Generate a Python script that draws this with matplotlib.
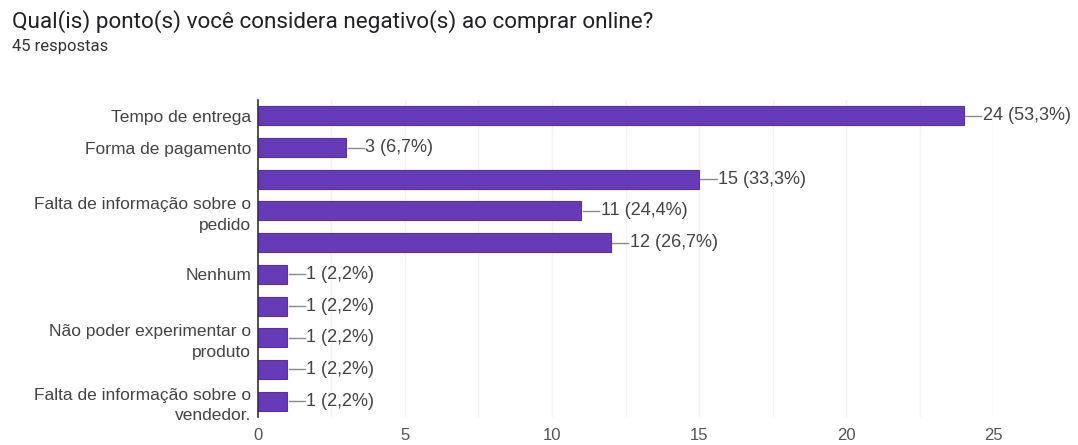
import matplotlib
matplotlib.use("Agg")
import matplotlib.pyplot as plt
import numpy as np

# dados do gráfico (respostas por opção)
categorias = [
    "Tempo de entrega",
    "Forma de pagamento",
    "",
    "Falta de informação sobre o\npedido",
    "",
    "Nenhum",
    "",
    "Não poder experimentar o\nproduto",
    "",
    "Falta de informação sobre o\nvendedor.",
]
valores = [24, 3, 15, 11, 12, 1, 1, 1, 1, 1]
total = 45
xticks = [0, 5, 10, 15, 20, 25]

ROXO = "#673ab7"
CINZA = "#444444"

fig = plt.figure(figsize=(10.78, 4.45), dpi=100)
ax = fig.add_axes([0.2393, 0.0629, 0.6819, 0.7124])

y = np.arange(len(valores))
ax.barh(y, valores, height=0.6, color=ROXO, edgecolor="#5a2fa8", linewidth=0.8, zorder=3)

for yi, v in zip(y, valores):
    pct = f"{v / total * 100:.1f}".replace(".", ",")
    ax.plot([v + 0.05, v + 0.6], [yi, yi], color="#8a8a8a", lw=1, zorder=3)
    ax.text(v + 0.65, yi, f"{v} ({pct}%)", va="center", ha="left",
            fontsize=13, color=CINZA, family="Liberation Sans")

ax.set_xlim(0, 25)
ax.set_ylim(len(valores) - 0.5, -0.5)
ax.set_xticks(xticks)
ax.set_xticks(np.arange(0, 25.1, 2.5), minor=True)
ax.set_xticklabels([str(t) for t in xticks], fontsize=12, color="#555555", family="Liberation Sans")
ax.set_yticks(y)
ax.set_yticklabels(categorias, fontsize=12.5, color=CINZA, family="Liberation Sans",
                   linespacing=1.45)
ax.tick_params(axis="both", which="both", length=0)
ax.tick_params(axis="y", pad=5)
ax.tick_params(axis="x", pad=8)
ax.grid(axis="x", which="both", color="#f2f2f2", lw=1, zorder=0)

for s in ["top", "right", "bottom"]:
    ax.spines[s].set_visible(False)
ax.spines["left"].set_color("#333333")
ax.spines["left"].set_linewidth(1.2)
ax.spines["left"].set_zorder(4)

fig.text(0.011, 0.952, "Qual(is) ponto(s) você considera negativo(s) ao comprar online?",
         fontsize=16.2, color="#202124", family="Roboto", va="center")
fig.text(0.011, 0.895, "45 respostas", fontsize=12, color="#333333", family="Roboto", va="center")

fig.savefig("out.png", dpi=100)
